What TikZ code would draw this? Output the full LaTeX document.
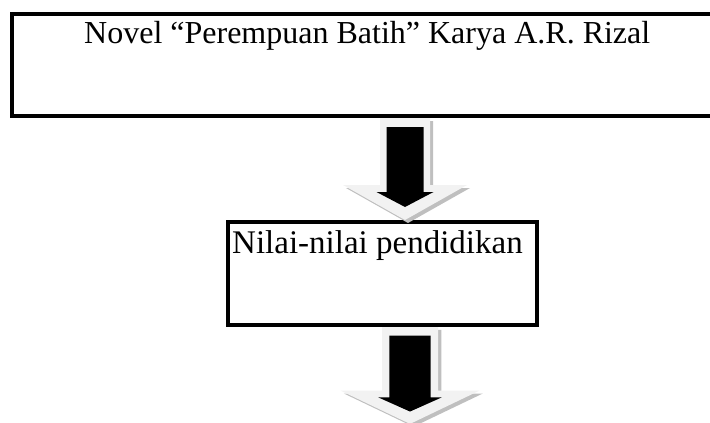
\documentclass[tikz,border=0pt]{standalone}
\usepackage{fontspec}
\setmainfont{Liberation Serif}
\definecolor{arrowfill}{HTML}{F2F2F2}
\definecolor{arrowshade}{HTML}{BFBFBF}
\newcommand{\blockarrow}[3]{%
	\begin{scope}[shift={#1},xscale=#2,yscale=#3]
		\fill[arrowshade] (-22,3)--(28,3)--(28,70)--(65,70)--(3,105)--(-59,70)--(-22,70)--cycle;
		\fill[arrowfill] (-25,0)--(25,0)--(25,67)--(62,67)--(0,102)--(-62,67)--(-25,67)--cycle;
		\fill[black] (-18.5,9)--(18.5,9)--(18.5,74)--(28.5,74)--(0,89)--(-28.5,74)--(-18.5,74)--cycle;
	\end{scope}}
\begin{document}
\begin{tikzpicture}[x=1pt, y=-1pt, line join=miter]
			\tikzset{box/.style={draw, line width=4pt, inner sep=0pt, outer sep=0pt},
				boxtext/.style={inner sep=0pt, font=\fontsize{32}{38}\selectfont}}
			\useasboundingbox (0,0) rectangle (710,423);
			\clip (0,0) rectangle (710,423);
			\node[box, minimum width=760pt, minimum height=102pt] (novelbox) at (392,65) {};
			\node[boxtext, anchor=base west] (noveltext) at (84,43) {Novel “Perempuan Batih” Karya A.R. Rizal};
			\node[box, minimum width=309pt, minimum height=103pt] (nilaibox) at (382.5,273.5) {};
			\node[boxtext, anchor=base west, font=\fontsize{33}{40}\selectfont] (nilaitext) at (232,253) {Nilai-nilai pendidikan};
			\coordinate (arrA) at ([xshift=13pt, yshift=-2pt]novelbox.south);
			\coordinate (arrB) at ([xshift=27.5pt, yshift=-2pt]nilaibox.south);
			\blockarrow{(arrA)}{1}{1}
			\blockarrow{(arrB)}{1.12}{0.95}
		\end{tikzpicture}
\end{document}
